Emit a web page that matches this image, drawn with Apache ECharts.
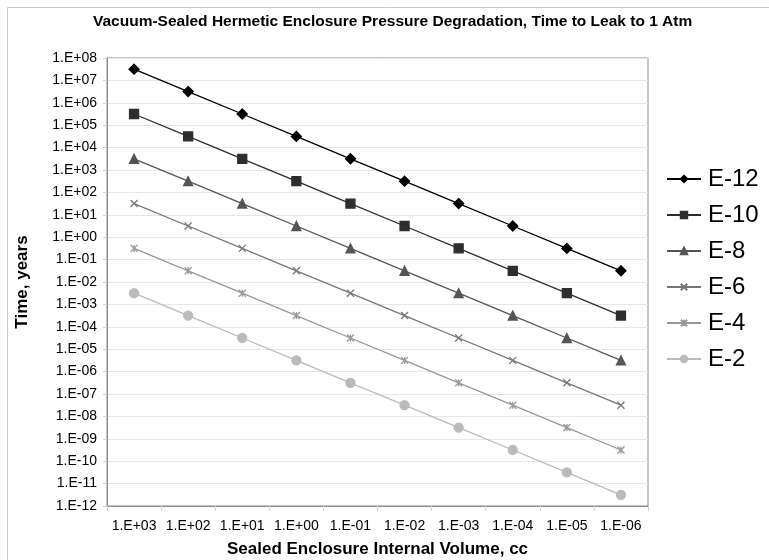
<!DOCTYPE html>
<html>
<head>
<meta charset="utf-8">
<script src="https://cdn.jsdelivr.net/npm/echarts@6/dist/echarts.min.js"></script>
<style>
  html, body { margin: 0; padding: 0; background: #fff; }
  #chart { width: 769px; height: 560px; }
</style>
</head>
<body>
<div id="chart"></div>
<script>
const volumes = ['1.E+03', '1.E+02', '1.E+01', '1.E+00', '1.E-01', '1.E-02', '1.E-03', '1.E-04', '1.E-05', '1.E-06']

// time to leak (years) for each leak rate
const e12 = [3.17e7, 3.17e6, 3.17e5, 3.17e4, 3.17e3, 3.17e2, 3.17e1, 3.17e0, 3.17e-1, 3.17e-2]
const e10 = [3.17e5, 3.17e4, 3.17e3, 3.17e2, 3.17e1, 3.17e0, 3.17e-1, 3.17e-2, 3.17e-3, 3.17e-4]
const e8 = [3.17e3, 3.17e2, 3.17e1, 3.17e0, 3.17e-1, 3.17e-2, 3.17e-3, 3.17e-4, 3.17e-5, 3.17e-6]
const e6 = [3.17e1, 3.17e0, 3.17e-1, 3.17e-2, 3.17e-3, 3.17e-4, 3.17e-5, 3.17e-6, 3.17e-7, 3.17e-8]
const e4 = [3.17e-1, 3.17e-2, 3.17e-3, 3.17e-4, 3.17e-5, 3.17e-6, 3.17e-7, 3.17e-8, 3.17e-9, 3.17e-10]
const e2 = [3.17e-3, 3.17e-4, 3.17e-5, 3.17e-6, 3.17e-7, 3.17e-8, 3.17e-9, 3.17e-10, 3.17e-11, 3.17e-12]

const font = 'Liberation Sans, Arial, sans-serif'

function sciLabel(v) {
  const ex = Math.round(Math.log10(v))
  const sign = ex < 0 ? '-' : '+'
  const n = Math.abs(ex)
  return '1.E' + sign + (n < 10 ? '0' + n : '' + n)
}

function lineSeries(name, data, color, symbol, size) {
  return {
    name: name,
    type: 'line',
    data: data,
    symbol: symbol,
    symbolSize: size,
    showAllSymbol: true,
    animation: false,
    lineStyle: { color: color, width: 1.3 },
    itemStyle: { color: color, borderColor: color, borderWidth: 1.3 }
  }
}

const chart = echarts.init(document.getElementById('chart'))
chart.setOption({
  backgroundColor: '#fff',
  animation: false,
  title: {
    text: 'Vacuum-Sealed Hermetic Enclosure Pressure Degradation, Time to Leak to 1 Atm',
    left: 88,
    top: 9,
    textStyle: { fontFamily: font, fontSize: 15.5, fontWeight: 'bold', color: '#000' }
  },
  graphic: [
    { type: 'line', shape: { x1: 7.5, y1: 7.5, x2: 769, y2: 7.5 }, style: { stroke: '#c8c8c8', lineWidth: 1 } },
    { type: 'line', shape: { x1: 7.5, y1: 7.5, x2: 7.5, y2: 560 }, style: { stroke: '#c8c8c8', lineWidth: 1 } }
  ],
  legend: {
    orient: 'vertical',
    left: 661,
    top: 162,
    itemWidth: 34,
    itemHeight: 8,
    itemGap: 12,
    textStyle: { fontFamily: font, fontSize: 24, color: '#000', padding: [0, 0, 0, 2] },
    data: ['E-12', 'E-10', 'E-8', 'E-6', 'E-4', 'E-2']
  },
  grid: {
    left: 107,
    top: 58,
    right: 121,
    bottom: 54,
    outerBoundsMode: 'none',
    containLabel: false,
    show: true,
    borderColor: '#8c8c8c',
    borderWidth: 1
  },
  xAxis: {
    type: 'category',
    data: volumes,
    boundaryGap: true,
    name: 'Sealed Enclosure Internal Volume, cc',
    nameLocation: 'middle',
    nameGap: 35,
    nameTextStyle: { fontFamily: font, fontSize: 17, fontWeight: 'bold', color: '#000' },
    axisLine: { lineStyle: { color: '#8c8c8c' } },
    axisTick: { show: true, length: 5, interval: 0, lineStyle: { color: '#d0d0d0' } },
    axisLabel: { fontFamily: font, fontSize: 14, color: '#000', margin: 13, interval: 0 },
    splitLine: { show: false }
  },
  yAxis: {
    type: 'log',
    logBase: 10,
    min: 1e-12,
    max: 1e8,
    interval: 1,
    name: 'Time, years',
    nameLocation: 'middle',
    nameGap: 76,
    nameTextStyle: { fontFamily: font, fontSize: 17, fontWeight: 'bold', color: '#000' },
    axisLine: { show: true, lineStyle: { color: '#8c8c8c' } },
    axisTick: { show: true, length: 4, lineStyle: { color: '#d0d0d0' } },
    axisLabel: { fontFamily: font, fontSize: 14, color: '#000', margin: 10, formatter: sciLabel },
    splitLine: { show: true, lineStyle: { color: '#e6e6e6' } },
    minorTick: { show: false },
    minorSplitLine: { show: false }
  },
  series: [
    lineSeries('E-12', e12, '#000000', 'diamond', 10),
    lineSeries('E-10', e10, '#2e2e2e', 'rect', 9),
    lineSeries('E-8', e8, '#555555', 'triangle', 9),
    lineSeries('E-6', e6, '#777777', 'path://M0,0L10,10M10,0L0,10', 7),
    lineSeries('E-4', e4, '#999999', 'path://M0,0L10,10M10,0L0,10M5,0L5,10', 7),
    lineSeries('E-2', e2, '#bbbbbb', 'circle', 9)
  ]
})
</script>
</body>
</html>
